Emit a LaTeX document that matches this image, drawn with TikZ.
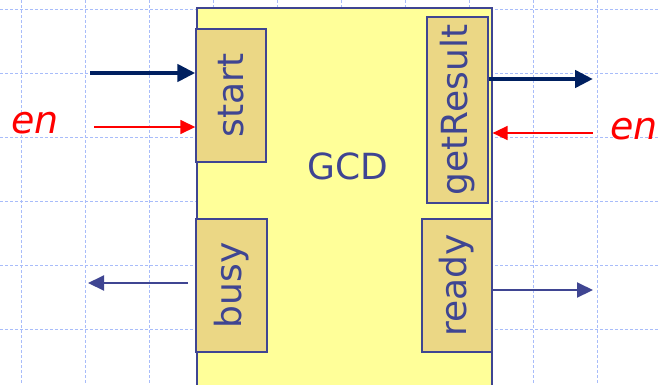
\documentclass[tikz,border=0pt]{standalone}
\usepackage{fontspec}
\setmainfont{DejaVu Sans}
\usetikzlibrary{arrows.meta}
\definecolor{gridblue}{HTML}{A8BCFA}
\definecolor{boxyellow}{HTML}{FFFF99}
\definecolor{porttan}{HTML}{EBD785}
\definecolor{inkblue}{HTML}{3F4592}
\definecolor{navy}{HTML}{002060}
\definecolor{enred}{HTML}{FF0000}
\tikzset{
  gridline/.style={gridblue, line width=0.9pt, dash pattern=on 3pt off 2pt},
  mainbox/.style={draw=inkblue, fill=boxyellow, line width=1.6pt},
  portbox/.style={draw=inkblue, fill=porttan, line width=1.4pt, rotate=90,
    inner sep=0pt, font=\fontsize{36}{36}\selectfont, text=inkblue},
  thickarrow/.style={navy, line width=4.5pt, -{Triangle[length=18pt,width=17pt]}},
  redarrow/.style={enred, line width=1.6pt, -{Triangle[length=15pt,width=14pt]}},
  bluearrow/.style={inkblue, line width=2pt, -{Triangle[length=16pt,width=15pt]}},
  enlabel/.style={text=enred, font=\fontsize{38}{38}\selectfont\itshape, inner sep=0pt}
}
\begin{document}
\begin{tikzpicture}[x=1pt,y=-1pt]
\useasboundingbox (0,0) rectangle (660,384);
\clip (0,0) rectangle (660,384);
% grid
\foreach \gx in {21,85,149,213,277,341,405,469,533,597}
  \draw[gridline] (\gx,0) -- (\gx,384);
\foreach \gy in {9,73,137,201,265,329}
  \draw[gridline] (0,\gy) -- (660,\gy);
% main box
\node[mainbox, minimum width=295pt, minimum height=393pt, inner sep=0pt, anchor=north west] (gcd) at (196,7) {};
\node[text=inkblue, font=\fontsize{36}{36}\selectfont, inner sep=0pt] (gcdlabel) at (348,166) {GCD};
% ports
\node[portbox, minimum width=133pt, minimum height=70pt] (start) at (231,95.5) {start};
\node[portbox, minimum width=186pt, minimum height=61pt] (getres) at (457.5,110) {getResult};
\node[portbox, minimum width=133pt, minimum height=71pt] (busy) at (231.5,285.5) {busy};
\node[portbox, minimum width=133pt, minimum height=70pt] (ready) at (457,285.5) {ready};
% labels
\node[enlabel, anchor=base west] (enL) at (11,133) {en};
\node[enlabel, anchor=base west] (enR) at (610,139) {en};
% arrow endpoints
\coordinate (startin) at (90,73);
\coordinate (enin) at (94,127);
\coordinate (resout) at (593,79);
\coordinate (enrin) at (593,133);
\coordinate (busyout) at (88,283);
\coordinate (readyout) at (593,290);
% arrows
\draw[thickarrow] (startin) -- (startin -| start.north);
\draw[redarrow] (enin) -- (enin -| start.north);
\draw[thickarrow] (resout -| getres.south) -- (resout);
\draw[redarrow] (enrin) -- (enrin -| gcd.east);
\draw[bluearrow] (188,283) -- (busyout);
\draw[bluearrow] (readyout -| ready.south) -- (readyout);
\end{tikzpicture}
\end{document}
